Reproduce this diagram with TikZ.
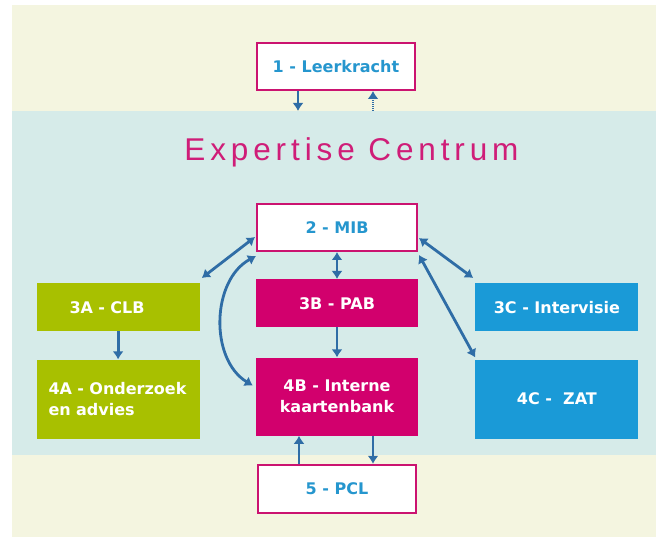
\documentclass[tikz,border=0pt]{standalone}
\usepackage{fontspec}
\setmainfont{DejaVu Sans}
\newfontfamily\titlefont[LetterSpace=15.5]{Liberation Sans}
\usetikzlibrary{positioning}
\usetikzlibrary{arrows.meta}
\definecolor{creambg}{HTML}{F4F5E0}
\definecolor{bandbg}{HTML}{D6EBE9}
\definecolor{limegreen}{HTML}{A8C000}
\definecolor{magentabox}{HTML}{D2006D}
\definecolor{cyanbox}{HTML}{1A9AD7}
\definecolor{linkblue}{HTML}{2F6DA6}
\definecolor{textblue}{HTML}{2596CE}
\definecolor{framepink}{HTML}{CB1370}
\definecolor{titlepink}{HTML}{CF1D78}
\tikzstyle{whitenode} = [draw=framepink, line width=2pt, fill=white, text=textblue, font=\bfseries\fontsize{16}{21}\selectfont, minimum width=158pt, minimum height=47pt]
\tikzstyle{colnode} = [text=white, font=\bfseries\fontsize{16}{21}\selectfont, minimum width=163pt, minimum height=48pt, align=center]
\tikzstyle{colorA} = [fill=limegreen]
\tikzstyle{colorB} = [fill=magentabox]
\tikzstyle{colorC} = [fill=cyanbox]
\tikzstyle{link} = [linkblue, line width=2.8pt, -{Latex[length=8pt,width=11pt]}]
\tikzstyle{twolink} = [link, {Latex[length=8pt,width=11pt]}-{Latex[length=8pt,width=11pt]}]

\begin{document}
\begin{tikzpicture}[x=1pt, y=-1pt]
  \useasboundingbox (0,0) rectangle (656,537);
  \fill[creambg] (12,5) rectangle (656,537);
  \fill[bandbg] (12,111) rectangle (656,455);

  \node[font=\titlefont\fontsize{31.5}{36}\selectfont, text=titlepink] (title) at (351.5,152) {Expertise Centrum};

  \node[whitenode, minimum width=160pt] (mib) at (337,227.5) {2 - MIB};
  \node[colnode, colorB, minimum width=162pt, below=27pt of mib] (pab) {3B - PAB};
  \node[colnode, colorB, minimum width=162pt, minimum height=78pt, below=30pt of pab] (kb) {4B - Interne\\kaartenbank};
  \node[whitenode, minimum height=48pt, below=28pt of kb] (pcl) {5 - PCL};
  \node[whitenode, above=112pt of mib, xshift=-1pt] (lk) {1 - Leerkracht};
  \node[colnode, colorA, left=56pt of pab, yshift=-4pt, align=left, text width=97pt, inner xsep=33pt] (clb) {3A - CLB};
  \node[colnode, colorA, minimum height=79pt, below=28pt of clb, align=left, text width=139pt, inner xsep=12pt] (oz) {4A - Onderzoek\\en advies};
  \node[colnode, colorC, right=57pt of pab, yshift=-4pt] (iv) {3C - Intervisie};
  \node[colnode, colorC, minimum height=79pt, below=28pt of iv] (zat) {4C - \ ZAT};

  \coordinate (downend) at (298,111);
  \coordinate (upstart) at (373,111);

  \draw[link] (lk.south -| downend) -- (downend);
  \draw[link, line width=1.6pt, dash pattern=on 1.2pt off 0.8pt] (upstart) -- (lk.south -| upstart);
  \draw[twolink] ([xshift=-1pt,yshift=-9.5pt]mib.west) -- ([xshift=2pt,yshift=5pt]clb.north east);
  \draw[twolink] ([yshift=-4pt]mib.south west) to[bend right=60] ([xshift=-3pt,yshift=11pt]kb.west);
  \draw[twolink] (mib) -- (pab);
  \draw[link] (pab) -- (kb);
  \draw[link] (clb) -- (oz);
  \draw[twolink] ([xshift=1pt,yshift=-10.5pt]mib.east) -- ([xshift=-2pt,yshift=5pt]iv.north west);
  \draw[twolink] ([xshift=1pt,yshift=-3pt]mib.south east) -- ([yshift=2pt]zat.north west);
  \draw[link] ([xshift=-38pt]pcl.north) -- ([xshift=-38pt]pcl.north |- kb.south);
  \draw[link] ([xshift=36pt]kb.south) -- ([xshift=36pt]kb.south |- pcl.north);
\end{tikzpicture}
\end{document}
